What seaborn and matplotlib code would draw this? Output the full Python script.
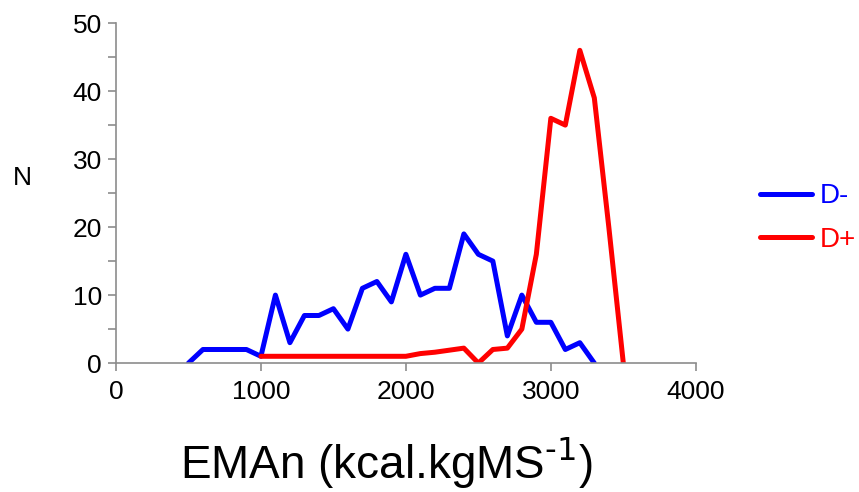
import pandas as pd
import seaborn as sns
import matplotlib.pyplot as plt
from matplotlib.ticker import MultipleLocator

# EMAn bins (kcal.kgMS-1) and counts
x_dminus = list(range(500, 3400, 100))
n_dminus = [0, 2, 2, 2, 2, 1, 10, 3, 7, 7, 8, 5, 11, 12, 9, 16,
            10, 11, 11, 19, 16, 15, 4, 10, 6, 6, 2, 3, 0]

x_dplus = list(range(1000, 3600, 100))
n_dplus = [1, 1, 1, 1, 1, 1, 1, 1, 1, 1, 1, 1.4, 1.6, 1.9, 2.2,
           0, 2, 2.2, 5, 16, 36, 35, 46, 39, 20, 0]

groups = ["D-", "D+"]
colors = {"D-": "#0000ff", "D+": "#ff0000"}


def build_frame():
	"""Long-form table for seaborn."""
	a = pd.DataFrame({"EMAn": x_dminus, "N": n_dminus, "group": "D-"})
	b = pd.DataFrame({"EMAn": x_dplus, "N": n_dplus, "group": "D+"})
	return pd.concat([a, b], ignore_index=True)


def main():
	df = build_frame()

	sns.set_style("white")
	plt.rcParams["font.family"] = ["Liberation Sans", "DejaVu Sans"]

	fig = plt.figure(figsize=(8.59, 4.92), dpi=100)
	ax = fig.add_axes([0.135, 0.262, 0.675, 0.691])

	sns.lineplot(data=df, x="EMAn", y="N", hue="group", hue_order=groups,
				 palette=colors, linewidth=3.6, ax=ax, legend=True)

	ax.set_xlim(0, 4000)
	ax.set_ylim(0, 50)
	ax.xaxis.set_major_locator(MultipleLocator(1000))
	ax.yaxis.set_major_locator(MultipleLocator(10))
	ax.yaxis.set_minor_locator(MultipleLocator(5))

	for side in ["top", "right"]:
		ax.spines[side].set_visible(False)
	for side in ["left", "bottom"]:
		ax.spines[side].set_color("#8c8c8c")
		ax.spines[side].set_linewidth(1.2)

	ax.tick_params(axis="both", which="both", direction="out", color="#8c8c8c",
				   bottom=True, left=True, width=1.2, length=6,
				   labelsize=19, labelcolor="black")
	ax.tick_params(axis="x", pad=6)
	ax.tick_params(axis="y", pad=4)

	ax.set_xlabel("EMAn (kcal.kgMS$^{\\text{-1}}$)", fontsize=33, color="black",
				  va="baseline")
	ax.xaxis.set_label_coords(0.467, -0.342)
	ax.set_ylabel("N", fontsize=19, rotation=0, ha="center", va="center", color="black")
	ax.yaxis.set_label_coords(-0.162, 0.544)

	leg = ax.legend(loc="upper left", bbox_to_anchor=(1.11, 0.529), frameon=False,
					fontsize=20, handlelength=1.87, handletextpad=0.31,
					labelspacing=0.63, borderpad=0, borderaxespad=0)
	for txt, g in zip(leg.get_texts(), groups):
		txt.set_color(colors[g])

	fig.savefig("out.png", dpi=100)
	plt.close(fig)


if __name__ == "__main__":
	main()
